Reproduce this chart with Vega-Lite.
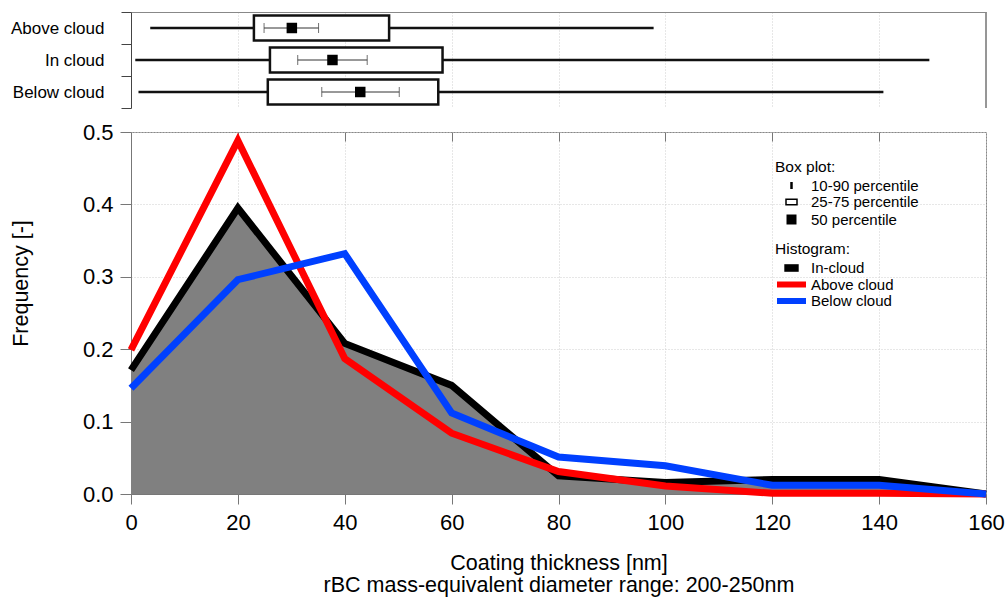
{
  "$schema": "https://vega.github.io/schema/vega-lite/v6.json",
  "padding": {"left": 9, "top": 3, "right": 4, "bottom": 4},
  "bounds": "flush",
  "spacing": 24,
  "background": "white",
  "datasets": {
    "box": [
      {"cat": "Above cloud", "lo": 3.6, "hi": 97.8, "q25": 23.0, "q75": 48.3, "med": 30.1, "elo": 24.9, "ehi": 35.1},
      {"cat": "In cloud", "lo": 0.8, "hi": 149.4, "q25": 26.0, "q75": 58.3, "med": 37.7, "elo": 31.2, "ehi": 44.2},
      {"cat": "Below cloud", "lo": 1.4, "hi": 140.8, "q25": 25.6, "q75": 57.5, "med": 42.9, "elo": 35.7, "ehi": 50.2}
    ],
    "hist": [
      {"x": 0, "series": "In-cloud", "freq": 0.171},
      {"x": 20, "series": "In-cloud", "freq": 0.395},
      {"x": 40, "series": "In-cloud", "freq": 0.208},
      {"x": 60, "series": "In-cloud", "freq": 0.150},
      {"x": 80, "series": "In-cloud", "freq": 0.025},
      {"x": 100, "series": "In-cloud", "freq": 0.016},
      {"x": 120, "series": "In-cloud", "freq": 0.020},
      {"x": 140, "series": "In-cloud", "freq": 0.020},
      {"x": 160, "series": "In-cloud", "freq": 0.0},
      {"x": 0, "series": "Above cloud", "freq": 0.199},
      {"x": 20, "series": "Above cloud", "freq": 0.488},
      {"x": 40, "series": "Above cloud", "freq": 0.187},
      {"x": 60, "series": "Above cloud", "freq": 0.084},
      {"x": 80, "series": "Above cloud", "freq": 0.031},
      {"x": 100, "series": "Above cloud", "freq": 0.011},
      {"x": 120, "series": "Above cloud", "freq": 0.001},
      {"x": 140, "series": "Above cloud", "freq": 0.001},
      {"x": 160, "series": "Above cloud", "freq": 0.0},
      {"x": 0, "series": "Below cloud", "freq": 0.146},
      {"x": 20, "series": "Below cloud", "freq": 0.296},
      {"x": 40, "series": "Below cloud", "freq": 0.332},
      {"x": 60, "series": "Below cloud", "freq": 0.112},
      {"x": 80, "series": "Below cloud", "freq": 0.051},
      {"x": 100, "series": "Below cloud", "freq": 0.039},
      {"x": 120, "series": "Below cloud", "freq": 0.012},
      {"x": 140, "series": "Below cloud", "freq": 0.012},
      {"x": 160, "series": "Below cloud", "freq": 0.0}
    ],
    "bplegend": [
      {"bp": "10-90 percentile"},
      {"bp": "25-75 percentile"},
      {"bp": "50 percentile"}
    ]
  },
  "config": {
    "font": "Liberation Sans",
    "axis": {
      "labelFont": "Liberation Sans", "titleFont": "Liberation Sans",
      "labelColor": "#000", "titleColor": "#000", "titleFontWeight": "normal",
      "domainColor": "#777", "tickColor": "#777",
      "gridColor": "#cfcfcf", "gridDash": [1, 2], "gridWidth": 1
    },
    "legend": {
      "labelFont": "Liberation Sans", "titleFont": "Liberation Sans",
      "labelColor": "#000", "titleColor": "#000", "titleFontWeight": "normal",
      "titleFontSize": 15.5, "labelFontSize": 15, "padding": 0, "rowPadding": 0.5,
      "titlePadding": 3, "labelOffset": 21, "symbolSize": 100
    },
    "view": {"stroke": null}
  },
  "vconcat": [
    {
      "width": 855,
      "height": 96,
      "data": {"name": "box"},
      "layer": [
        {
          "mark": {"type": "rule", "color": "#111", "strokeWidth": 2.5},
          "encoding": {
            "x": {"field": "lo", "type": "quantitative", "scale": {"domain": [0, 160], "nice": false},
                  "axis": {"orient": "top", "labels": false, "ticks": false, "domain": true, "domainColor": "#888", "grid": true, "values": [20, 40, 60, 80, 100, 120, 140], "title": null}},
            "x2": {"field": "hi"},
            "y": {"field": "cat", "type": "nominal", "scale": {"domain": ["Above cloud", "In cloud", "Below cloud"], "paddingInner": 0, "paddingOuter": 0},
                  "axis": {"title": null, "tickBand": "extent", "tickSize": 10, "labelPadding": 17, "labelFontSize": 17, "domainColor": "#444", "tickColor": "#444"}}
          }
        },
        {
          "mark": {"type": "bar", "fill": "white", "stroke": "#111", "strokeWidth": 2.5, "height": 25},
          "encoding": {
            "x": {"field": "q25", "type": "quantitative"},
            "x2": {"field": "q75"},
            "y": {"field": "cat", "type": "nominal"}
          }
        },
        {
          "mark": {"type": "rule", "color": "#333", "strokeWidth": 1},
          "encoding": {
            "x": {"field": "elo", "type": "quantitative"},
            "x2": {"field": "ehi"},
            "y": {"field": "cat", "type": "nominal"}
          }
        },
        {
          "mark": {"type": "tick", "color": "#333", "thickness": 1, "size": 10, "orient": "vertical"},
          "encoding": {
            "x": {"field": "elo", "type": "quantitative"},
            "y": {"field": "cat", "type": "nominal"}
          }
        },
        {
          "mark": {"type": "tick", "color": "#333", "thickness": 1, "size": 10, "orient": "vertical"},
          "encoding": {
            "x": {"field": "ehi", "type": "quantitative"},
            "y": {"field": "cat", "type": "nominal"}
          }
        },
        {
          "mark": {"type": "square", "color": "#000", "size": 110, "opacity": 1},
          "encoding": {
            "x": {"field": "med", "type": "quantitative"},
            "y": {"field": "cat", "type": "nominal"}
          }
        },
        {
          "mark": {"type": "rule", "color": "#888", "strokeWidth": 1},
          "encoding": {"x": {"datum": 160}}
        }
      ]
    },
    {
      "width": 855,
      "height": 362,
      "view": {"stroke": "#888"},
      "layer": [
        {
          "data": {"name": "hist"},
          "transform": [{"filter": "datum.series === 'In-cloud'"}],
          "mark": {"type": "area", "color": "#808080"},
          "encoding": {
            "x": {"field": "x", "type": "quantitative", "scale": {"domain": [0, 160], "nice": false},
                  "axis": {"values": [0, 20, 40, 60, 80, 100, 120, 140, 160], "grid": true, "tickSize": 10, "labelPadding": 8, "labelFontSize": 22, "labelFlush": false, "labelOverlap": false,
                           "title": ["Coating thickness [nm]", "rBC mass-equivalent diameter range: 200-250nm"], "titleFontSize": 21.5, "titleLineHeight": 22, "titlePadding": 19}},
            "y": {"field": "freq", "type": "quantitative", "scale": {"domain": [0, 0.5], "nice": false},
                  "axis": {"values": [0, 0.1, 0.2, 0.3, 0.4, 0.5], "format": ".1f", "grid": true, "tickSize": 11, "labelPadding": 7, "labelFontSize": 22,
                           "title": "Frequency [-]", "titleFontSize": 21.5, "titlePadding": 50, "titleY": 151}}
          }
        },
        {
          "data": {"name": "hist"},
          "transform": [{"filter": "datum.series === 'In-cloud'"}],
          "mark": {"type": "line", "strokeWidth": 7, "strokeJoin": "miter"},
          "encoding": {
            "x": {"field": "x", "type": "quantitative",
                  "axis": {"orient": "top", "labels": false, "domain": false, "grid": false, "ticks": true, "tickSize": -9, "values": [20, 40, 60, 80, 100, 120, 140], "title": null}},
            "y": {"field": "freq", "type": "quantitative"},
            "color": {"field": "series", "type": "nominal",
                      "scale": {"domain": ["In-cloud", "Above cloud", "Below cloud"], "range": ["#000000", "#ff0000", "#0040ff"]},
                      "legend": {"title": "Histogram:", "orient": "none", "legendX": 644, "legendY": 230, "symbolSize": 100,
                                 "encode": {"symbols": {"update": {
                                   "shape": {"signal": "datum.value === 'In-cloud' ? 'M0.36,-0.76H3.24V0.76H0.36Z' : 'M-1.1,-0.6H4.7V0.6H-1.1Z'"},
                                   "fill": {"signal": "datum.value === 'In-cloud' ? '#000000' : (datum.value === 'Above cloud' ? '#ff0000' : '#0040ff')"},
                                   "stroke": {"value": "transparent"},
                                   "strokeWidth": {"value": 0},
                                   "opacity": {"value": 1}
                                 }}}}}
          }
        },
        {
          "data": {"name": "hist"},
          "transform": [{"filter": "datum.series === 'Above cloud'"}],
          "mark": {"type": "line", "strokeWidth": 7, "strokeJoin": "miter"},
          "encoding": {
            "x": {"field": "x", "type": "quantitative", "axis": null},
            "y": {"field": "freq", "type": "quantitative"},
            "color": {"field": "series", "type": "nominal"}
          }
        },
        {
          "data": {"name": "hist"},
          "transform": [{"filter": "datum.series === 'Below cloud'"}],
          "mark": {"type": "line", "strokeWidth": 7, "strokeJoin": "miter"},
          "encoding": {
            "x": {"field": "x", "type": "quantitative", "axis": null},
            "y": {"field": "freq", "type": "quantitative"},
            "color": {"field": "series", "type": "nominal"}
          }
        },
        {
          "data": {"name": "bplegend"},
          "mark": {"type": "point", "filled": true, "opacity": 0, "fill": "#000000", "strokeWidth": 0},
          "encoding": {
            "shape": {"field": "bp", "type": "nominal",
                      "scale": {"domain": ["10-90 percentile", "25-75 percentile", "50 percentile"],
                                "range": ["M1.55,-0.7H2.05V0.7H1.55Z", "M0.55,-0.7H3.05V0.7H0.55ZM0.85,-0.4V0.4H2.75V-0.4Z", "M0.8,-1H2.8V1H0.8Z"]},
                      "legend": {"title": "Box plot:", "orient": "none", "legendX": 644, "legendY": 147.5, "symbolSize": 100,
                                 "encode": {"symbols": {"update": {
                                   "opacity": {"value": 1}
                                 }}}}}
          }
        }
      ],
      "resolve": {"axis": {"x": "independent"}}
    }
  ]
}
